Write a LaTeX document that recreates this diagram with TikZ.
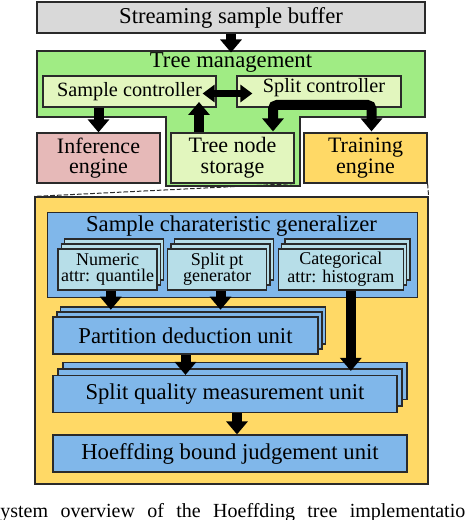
\documentclass[tikz,border=0pt]{standalone}
\usepackage{fontspec}
\setmainfont{Liberation Serif}
\usetikzlibrary{arrows.meta,calc}
\definecolor{cgray}{HTML}{D9D9D9}
\definecolor{cgreen}{HTML}{A0EC84}
\definecolor{cpale}{HTML}{E2F6BE}
\definecolor{cpink}{HTML}{E6B9B8}
\definecolor{cyel}{HTML}{FFD966}
\definecolor{cblue}{HTML}{80B7EA}
\definecolor{ccyan}{HTML}{B7DEE8}
\definecolor{cedge}{HTML}{2A2A2A}
\begin{document}
\begin{tikzpicture}[x=0.75pt,y=-0.75pt,
  box/.style={draw=cedge, line width=0.9pt, inner sep=0pt, align=center},
  rect/.style n args={4}{minimum width={(#3-#1)*0.75pt}, minimum height={(#4-#2)*0.75pt}, at={({(#1+#3)/2},{(#2+#4)/2})}},
  bigf/.style={font=\fontsize{17}{17}\selectfont},
  engf/.style={font=\fontsize{16.5}{15.5}\selectfont},
  ctlf/.style={font=\fontsize{15.2}{15}\selectfont},
  smf/.style={font=\fontsize{13.5}{12}\selectfont},
  blk/.style={line width=7.5pt, -{Triangle[width=15.75pt,length=9.75pt]}},
  dblk/.style={line width=5.25pt, {Triangle[width=12.75pt,length=9pt]}-{Triangle[width=12.75pt,length=9pt]}},
  dsh/.style={draw=cedge, line width=0.75pt, dash pattern=on 3.5pt off 1.5pt}
]
\useasboundingbox (0,0) rectangle (464,520);

% top part
\node[box, fill=cgray, bigf, rect={37}{2}{425}{33}] (buf) {Streaming sample buffer};
\draw[draw=cedge, line width=0.9pt, fill=cgreen] (37,51) -- (425,51) -- (425,117) -- (300,117) -- (300,186) -- (166,186) -- (166,117) -- (37,117) -- cycle;
\node[bigf, inner sep=0pt] (tml) at (231,63) {Tree management};
\coordinate (tmtop) at (231,52.5);
\node[box, fill=cpale, ctlf, rect={43}{76}{216}{107}] (sc) {Sample controller};
\node[box, fill=cpale, rect={237}{76}{401}{107}] (spc) {};
\node[ctlf, inner sep=0pt] (spcl) at (324,88) {Split controller};
\node[box, fill=cpink, engf, rect={37}{133}{160}{183}] (inf) {Inference\\engine};
\node[box, fill=cpale, engf, rect={171}{133}{294}{183}] (sts) {Tree node\\storage};
\node[box, fill=cyel, engf, rect={304}{133}{427}{183}] (trn) {Training\\engine};

\draw[blk] (buf.south) -- (tmtop);
\draw[blk] (inf.north |- sc.south) -- (inf.north);
\coordinate (scin) at (199,102);
\draw[blk] (scin |- sts.north) -- (scin);
\draw[dblk] ($(sc.east)+(-14,2)$) -- ($(spc.west)+(16,2)$);
\coordinate (fk) at (322,105);
\draw[blk, rounded corners=3pt] (fk) -| ($(sts.north)+(40.5,-1)$);
\draw[blk, rounded corners=3pt] (fk) -| ($(trn.north)+(6,-1)$);

% detail box
\node[box, fill=cyel, rect={35}{197}{428}{484}] (det) {};
\draw[dsh] (sts.south east) -- (det.north west);
\draw[dsh] (trn.south east) -- (det.north east);

\node[box, fill=cblue, rect={47.7}{212.7}{417.3}{297.3}] (gen) {};
\node[bigf, inner sep=0pt] (genl) at (231.5,226.5) {Sample charateristic generalizer};

% numeric stack
\node[box, fill=ccyan, rect={64.6}{239}{163.6}{280}] (num3) {};
\node[box, fill=ccyan, rect={61.3}{244}{160.3}{285}] (num2) {};
\node[box, fill=ccyan, smf, rect={58}{249}{157}{290}] (num) {Numeric\\attr: quantile};
% split pt stack
\node[box, fill=ccyan, rect={174.3}{239}{273.3}{280}] (sp3) {};
\node[box, fill=ccyan, rect={171}{244}{270}{285}] (sp2) {};
\node[box, fill=ccyan, smf, rect={167.7}{249}{266.7}{290}] (sp) {Split pt\\generator};
% categorical stack
\node[box, fill=ccyan, rect={284.9}{239}{409.9}{280}] (cat3) {};
\node[box, fill=ccyan, rect={281.6}{244}{406.6}{285}] (cat2) {};
\node[box, fill=ccyan, smf, rect={278.3}{249}{403.3}{290}] (cat) {Categorical\\attr: histogram};

% partition stack
\node[box, fill=cblue, rect={60.5}{307}{325.5}{344}] (pd3) {};
\node[box, fill=cblue, rect={57}{312}{322}{349}] (pd2) {};
\node[box, fill=cblue, bigf, rect={53}{317}{318}{354}] (pd) {Partition deduction unit};
% split quality stack
\node[box, fill=cblue, rect={63}{362.5}{407}{399.5}] (sq3) {};
\node[box, fill=cblue, rect={58}{369}{402}{406}] (sq2) {};
\node[box, fill=cblue, bigf, rect={53}{375.5}{397}{412.5}] (sq) {Split quality measurement unit};
% hoeffding
\node[box, fill=cblue, bigf, rect={53}{435}{407}{472}] (hb) {Hoeffding bound judgement unit};

\draw[blk, shorten >=-2.5pt] (num.south -| num2.south) -- (num2.south |- pd3.north);
\draw[blk, shorten >=-2.5pt] (sp.south -| sp2.south) -- (sp2.south |- pd3.north);
\coordinate (catout) at ($(cat.south)+(10,0)$);
\draw[blk, shorten >=3pt] (catout) -- (catout |- sq.north);
\draw[blk] (pd.south) -- (pd.south |- sq.north);
\coordinate (sqout) at ($(sq.south)+(12,0)$);
\draw[blk] (sqout) -- (sqout |- hb.north);

% caption (cropped)
\node[anchor=base west, inner sep=0pt, font=\fontsize{15}{15}\selectfont] (cap) at (-11,517) {\makebox[364.5pt][s]{System overview of the Hoeffding tree implementation}};
\end{tikzpicture}
\end{document}
